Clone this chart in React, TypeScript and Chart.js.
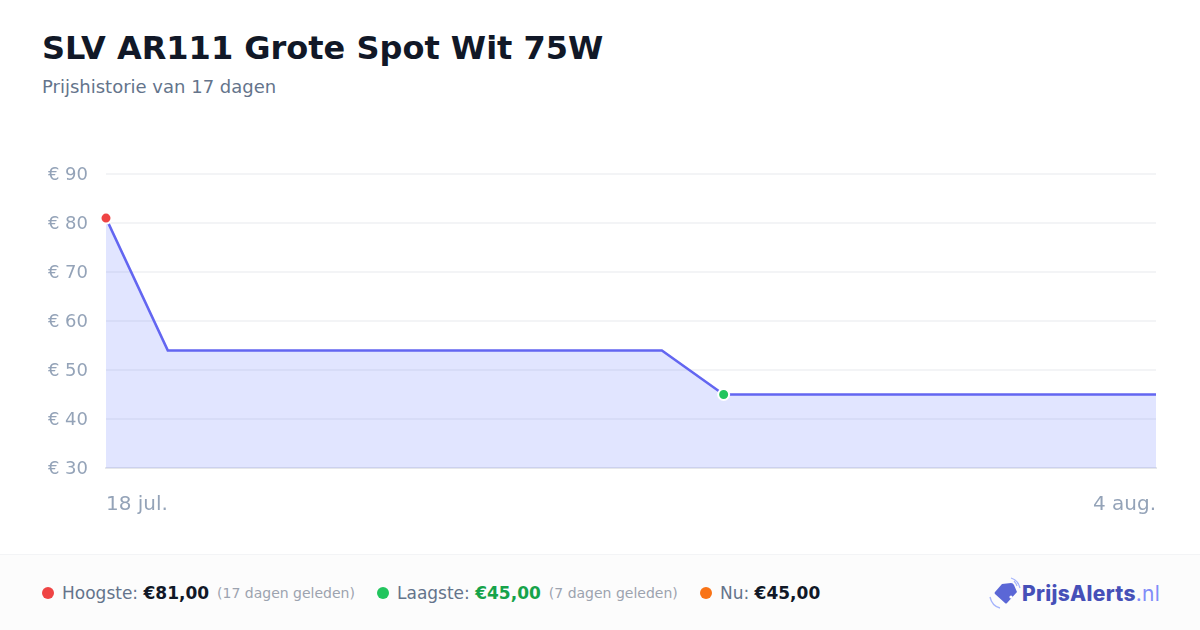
import React, { useEffect, useRef } from "react";
import { Chart, registerables } from "chart.js";

Chart.register(...registerables);

const title = "SLV AR111 Grote Spot Wit 75W";
const subtitle = "Prijshistorie van 17 dagen";
const dates = ["18 jul.", "19 jul.", "20 jul.", "21 jul.", "22 jul.", "23 jul.", "24 jul.", "25 jul.", "26 jul.", "27 jul.", "28 jul.", "29 jul.", "30 jul.", "31 jul.", "1 aug.", "2 aug.", "3 aug.", "4 aug."];
const prices = [81, 54, 54, 54, 54, 54, 54, 54, 54, 54, 45, 45, 45, 45, 45, 45, 45, 45];
const highIndex = 0;
const lowIndex = 10;

const FONT = "'DejaVu Sans', sans-serif";

function Stat(props: { dot: string; label: string; value: string; valueColor: string; note?: string; left: number }) {
  return (
    <div style={{ position: "absolute", left: props.left, top: 0, height: 76, display: "flex", alignItems: "center", whiteSpace: "nowrap" }}>
      <span style={{ width: 12, height: 12, borderRadius: 6, background: props.dot, marginRight: 8 }} />
      <span style={{ fontSize: 17, color: "#64748b" }}>{props.label}</span>
      <span style={{ fontSize: 17, fontWeight: 700, color: props.valueColor, marginLeft: 5.4 }}>{props.value}</span>
      {props.note ? <span style={{ fontSize: 14, color: "#9ca3af", marginLeft: 8 }}>{props.note}</span> : null}
    </div>
  );
}

export default function App() {
  const ref = useRef<HTMLCanvasElement>(null);
  useEffect(() => {
    const chart = new Chart(ref.current!, {
      type: "line",
      data: {
        labels: dates,
        datasets: [
          {
            data: prices,
            borderColor: "#6366f1",
            borderWidth: 2.5,
            backgroundColor: "rgba(96,118,253,0.19)",
            fill: "start",
            tension: 0,
            clip: false,
            pointRadius: (c: any) => (c.dataIndex === highIndex || c.dataIndex === lowIndex ? 5.5 : 0),
            pointHoverRadius: 0,
            pointBackgroundColor: (c: any) => (c.dataIndex === highIndex ? "#ef4444" : "#22c55e"),
            pointBorderColor: "#ffffff",
            pointBorderWidth: 2,
          } as any,
        ],
      },
      options: {
        animation: false,
        responsive: false,
        devicePixelRatio: 1,
        layout: { padding: { left: 0, right: 44, top: 174, bottom: 0 } },
        plugins: { legend: { display: false }, title: { display: false }, tooltip: { enabled: false } },
        scales: {
          x: {
            type: "category",
            offset: false,
            border: { display: true, color: "#e5e7eb", width: 2 },
            grid: { display: false, drawTicks: false },
            afterFit: (s: any) => { s.height = 86; },
            ticks: {
              autoSkip: false,
              maxRotation: 0,
              minRotation: 0,
              align: "inner",
              padding: 25,
              color: "#94a3b8",
              font: { family: FONT, size: 20 },
              callback: (_v: any, i: number) => (i === 0 || i === dates.length - 1 ? dates[i] : ""),
            },
          },
          y: {
            min: 30,
            max: 90,
            border: { display: false },
            grid: { color: "#f3f4f6", lineWidth: 2, drawTicks: false },
            afterFit: (s: any) => {
              s.width = 106;
              if (!s.__shifted) {
                s.__shifted = true;
                const orig = s.drawLabels;
                s.drawLabels = function (area: any) {
                  s.ctx.save();
                  s.ctx.translate(0, 1);
                  orig.call(s, area);
                  s.ctx.restore();
                };
              }
            },
            ticks: {
              stepSize: 10,
              padding: 18,
              color: "#94a3b8",
              font: { family: FONT, size: 18 },
              callback: (v: any) => "€ " + v,
            },
          },
        },
      } as any,
    });
    return () => chart.destroy();
  }, []);

  return (
    <div style={{ position: "absolute", left: 0, top: 0, width: 1200, height: 630, background: "#ffffff", overflow: "hidden", fontFamily: FONT }}>
      <div style={{ position: "absolute", left: 42, top: 28, fontSize: 32, lineHeight: "40px", fontWeight: 700, color: "#111827", letterSpacing: 0, whiteSpace: "nowrap" }}>{title}</div>
      <div style={{ position: "absolute", left: 42, top: 76, fontSize: 18, lineHeight: "22px", color: "#64748b", whiteSpace: "nowrap" }}>{subtitle}</div>
      <canvas ref={ref} width={1200} height={554} style={{ position: "absolute", left: 0, top: 0, width: 1200, height: 554 }} />
      <div style={{ position: "absolute", left: 0, top: 554, width: 1200, height: 76, boxSizing: "border-box", background: "#fcfcfc", borderTop: "1px solid #f3f4f6" }}>
        <Stat left={42} dot="#ef4444" label="Hoogste:" value="€81,00" valueColor="#111827" note="(17 dagen geleden)" />
        <Stat left={377} dot="#22c55e" label="Laagste:" value="€45,00" valueColor="#16a34a" note="(7 dagen geleden)" />
        <Stat left={700} dot="#f97316" label="Nu:" value="€45,00" valueColor="#111827" />
        <svg width={34} height={34} viewBox="0 0 34 34" style={{ position: "absolute", left: 989, top: 22 }}>
          <path d="M13 7 L22 6 Q24 6 25 8 L28 15 L18 26 Q17 27 16 26 L6 17 Q5 16 6 15 Z" fill="#5b67d6" />
          <circle cx="22" cy="20" r="1.6" fill="#ffffff" />
          <path d="M22 1 Q29 3 31 11" stroke="#a5b4fc" strokeWidth="1.3" fill="none" />
          <path d="M25 4 Q27 6 28 9" stroke="#a5b4fc" strokeWidth="1.1" fill="none" />
          <path d="M1 20 Q3 29 11 31" stroke="#a5b4fc" strokeWidth="1.3" fill="none" />
        </svg>
        <div style={{ position: "absolute", left: 1022, top: 0, height: 76, display: "flex", alignItems: "center", fontFamily: "Inter, sans-serif", fontSize: 21, letterSpacing: 0.3, whiteSpace: "nowrap" }}>
          <span style={{ fontWeight: 800, color: "#4650b8" }}>PrijsAlerts</span>
          <span style={{ fontWeight: 400, color: "#818cf8" }}>.nl</span>
        </div>
      </div>
    </div>
  );
}
